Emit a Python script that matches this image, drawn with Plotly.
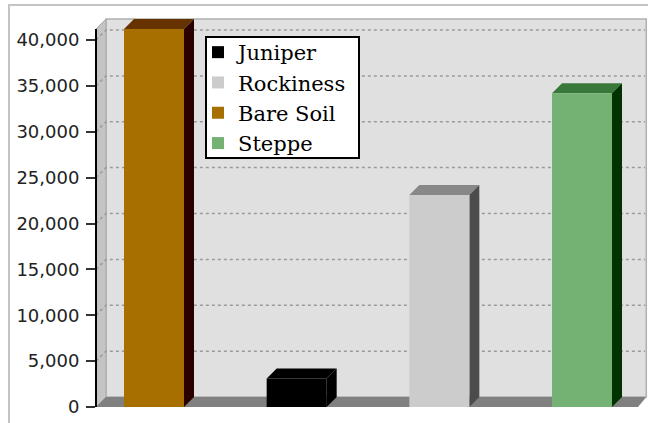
import plotly.graph_objects as go

# ---- data ----
categories = ["Juniper", "Rockiness", "Bare Soil", "Steppe"]      # legend order
values = [3100, 23100, 41200, 34200]
x_order = ["Bare Soil", "Juniper", "Rockiness", "Steppe"]         # left-to-right order
tick_values = [0, 5000, 10000, 15000, 20000, 25000, 30000, 35000, 40000]

# ---- styles ----
front_colors = {"Juniper": "#000000", "Rockiness": "#cccccc", "Bare Soil": "#a66f00", "Steppe": "#73b273"}
top_colors = {"Juniper": "#000000", "Rockiness": "#888888", "Bare Soil": "#663300", "Steppe": "#387838"}
side_colors = {"Juniper": "#000000", "Rockiness": "#4c4c4c", "Bare Soil": "#2b0000", "Steppe": "#003300"}

W, H = 648, 423
ML, MR, MT, MB = 96, 0, 12, 16
plot_w = W - ML - MR
plot_h = H - MT - MB
px_per_x = 142.67          # pixels per category step
px_per_y = 367 / 40000     # pixels per value unit
x0_px = 154 - ML           # pixel offset of first category centre from plot left
xmin = -x0_px / px_per_x
xmax = xmin + plot_w / px_per_x
ymax_range = plot_h / px_per_y
depth_px = 10
dx = depth_px / px_per_x
dy = depth_px / px_per_y
bar_w = 60 / px_per_x
ytop = max(values)
floor_right = xmax - dx


def px_to_paper_x(px):
    return (px - ML) / plot_w


def px_to_paper_y(py):
    return (plot_h + MT - py) / plot_h


fig = go.Figure()
shapes = []

# outer frame
shapes.append(dict(type="rect", xref="paper", yref="paper",
                   x0=px_to_paper_x(9), x1=1.1, y0=-0.2, y1=px_to_paper_y(5),
                   line=dict(color="#c4c4c4", width=2), fillcolor="rgba(0,0,0,0)", layer="below"))
# back wall
shapes.append(dict(type="rect", xref="x", yref="y", x0=xmin + dx, x1=xmax - 0.012, y0=dy, y1=ytop + dy,
                   fillcolor="#e0e0e0", line=dict(color="#b0b0b0", width=1.5), layer="below"))
# left wall
shapes.append(dict(type="path", xref="x", yref="y",
                   path=f"M{xmin},0 L{xmin+dx},{dy} L{xmin+dx},{ytop+dy} L{xmin},{ytop} Z",
                   fillcolor="#c4c4c4", line=dict(color="#a8a8a8", width=1), layer="below"))
# floor
shapes.append(dict(type="path", xref="x", yref="y",
                   path=f"M{xmin},0 L{floor_right},0 L{xmax-0.012},{dy} L{xmin+dx},{dy} Z",
                   fillcolor="#808080", line=dict(color="#808080", width=0), layer="below"))
# gridlines on the wall
for v in tick_values[1:]:
    shapes.append(dict(type="path", xref="x", yref="y",
                       path=f"M{xmin},{v} L{xmin+dx},{v+dy} L{xmax-0.02},{v+dy}",
                       line=dict(color="#9a9a9a", width=1.5, dash="dot"), layer="below"))

for name, v in zip(categories, values):
    c = x_order.index(name)
    fig.add_trace(go.Bar(x=[c], y=[v], name=name, width=bar_w,
                         marker=dict(color=front_colors[name], line=dict(width=0))))
    l, r = c - bar_w / 2, c + bar_w / 2
    shapes.append(dict(type="path", xref="x", yref="y",
                       path=f"M{l},{v} L{l+dx},{v+dy} L{r+dx},{v+dy} L{r},{v} Z",
                       fillcolor=top_colors[name], line=dict(width=0), layer="below"))
    shapes.append(dict(type="path", xref="x", yref="y",
                       path=f"M{r},0 L{r+dx},{dy} L{r+dx},{v+dy} L{r},{v} Z",
                       fillcolor=side_colors[name], line=dict(width=0), layer="below"))

# y axis line
shapes.append(dict(type="line", xref="paper", yref="y", x0=0, x1=0, y0=0, y1=ytop,
                   line=dict(color="#000000", width=2), layer="above"))

# legend box
shapes.append(dict(type="rect", xref="paper", yref="paper",
                   x0=px_to_paper_x(206), x1=px_to_paper_x(359),
                   y0=px_to_paper_y(158), y1=px_to_paper_y(37),
                   fillcolor="white", line=dict(color="black", width=2), layer="above"))

fig.update_layout(
    width=W, height=H,
    margin=dict(l=ML, r=MR, t=MT, b=MB, pad=0),
    paper_bgcolor="white", plot_bgcolor="white",
    barmode="overlay",
    showlegend=True,
    legend=dict(x=px_to_paper_x(198), y=px_to_paper_y(32), xanchor="left", yanchor="top",
                bgcolor="rgba(0,0,0,0)", borderwidth=0,
                font=dict(family="DejaVu Serif", size=21, color="black"),
                tracegroupgap=0, itemwidth=30),
    xaxis=dict(range=[xmin, xmax], visible=False, fixedrange=True),
    yaxis=dict(range=[0, ymax_range], tickvals=tick_values, tickformat=",d",
               ticks="outside", ticklen=9, tickwidth=2, tickcolor="#333333",
               showgrid=False, zeroline=False, showline=False, fixedrange=True,
               tickfont=dict(family="DejaVu Sans", size=18, color="#222222"),
               ticklabelstandoff=3),
    shapes=shapes,
)

fig.write_html("out.html", config={"displayModeBar": False},
               post_script="document.body.style.margin='0';document.body.style.overflow='hidden';")
